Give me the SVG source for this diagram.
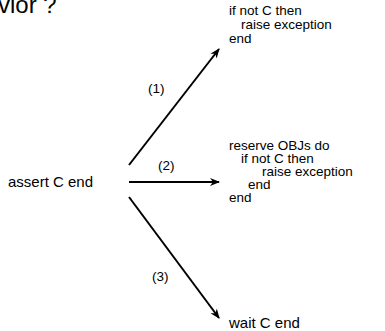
<svg xmlns="http://www.w3.org/2000/svg" width="385" height="331" viewBox="0 0 385 331">
<defs>
<style>
text{font-family:"Liberation Sans",Arial,sans-serif;font-size:13.5px;fill:#000}
.title{font-size:24px}
.big{font-size:15px}
.conn line{stroke:#000;stroke-width:2;fill:none}
</style>
<marker id="ah" viewBox="0 0 10 10" refX="9" refY="5" markerWidth="5" markerHeight="5" orient="auto" markerUnits="strokeWidth">
<path d="M0,1 L10,5 L0,9 L3,5 z" fill="#000"/>
</marker>
</defs>
<rect width="385" height="331" fill="#fff"/>
<text class="title" x="-2" y="13">vior ?</text>
<g id="assert"><text class="big" x="8" y="187">assert C end</text></g>
<g id="opt1"><text x="229" y="15">if not C then</text><text x="241" y="29">raise exception</text><text x="229" y="43">end</text></g>
<g id="opt2"><text x="229" y="150">reserve OBJs do</text><text x="241" y="163">if not C then</text><text x="262" y="176">raise exception</text><text x="248" y="189">end</text><text x="229" y="202">end</text></g>
<g id="opt3"><text class="big" x="229" y="328">wait C end</text></g>
<g class="conn" id="connectors">
<line x1="129" y1="165" x2="219" y2="49" marker-end="url(#ah)"/>
<line x1="129" y1="182" x2="219" y2="182" marker-end="url(#ah)"/>
<line x1="129" y1="197" x2="219" y2="318" marker-end="url(#ah)"/>
<text x="148" y="93">(1)</text>
<text x="158" y="170">(2)</text>
<text x="152" y="281">(3)</text>
</g>
</svg>
